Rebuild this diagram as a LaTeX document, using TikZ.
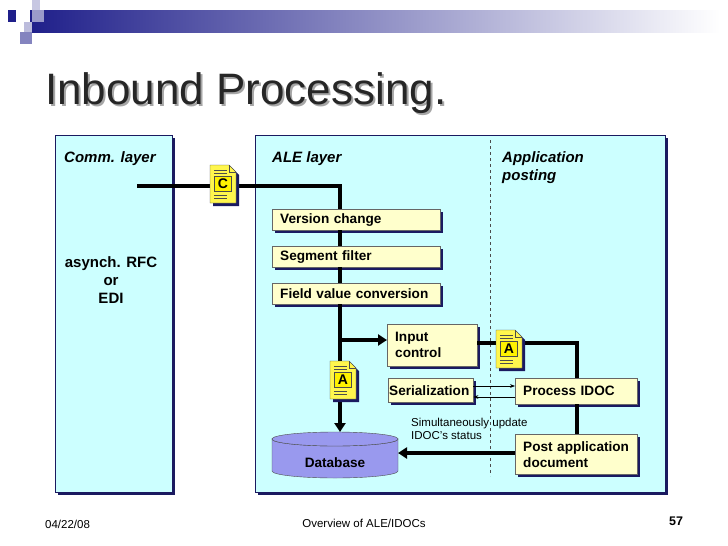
\documentclass[tikz,border=0pt]{standalone}
\usepackage{fontspec}
\setmainfont{Liberation Sans}
\usetikzlibrary{shadows,arrows.meta}
\definecolor{layerfill}{HTML}{CCFFFF}
\definecolor{boxfill}{HTML}{FFFFCC}
\definecolor{shadowblue}{HTML}{1A1A60}
\definecolor{dbfill}{HTML}{9999EE}
\definecolor{barblue}{HTML}{1F1F8A}
\tikzset{
  layerbox/.style={draw=shadowblue, fill=layerfill, anchor=north west, inner sep=0pt,
    drop shadow={shadow xshift=3pt, shadow yshift=-3pt, fill=shadowblue, opacity=1}},
  stagebox/.style={draw=black!60, fill=boxfill, anchor=north west, inner sep=0pt, inner xsep=8pt,
    align=left, font=\fontsize{13.6}{16}\selectfont\bfseries,
    drop shadow={shadow xshift=3pt, shadow yshift=-3pt, fill=shadowblue, opacity=1}},
  layertext/.style={anchor=west, inner sep=0pt, font=\fontsize{15}{18}\selectfont\bfseries\itshape, align=left},
  flow/.style={line width=3.2pt},
  syncarrow/.style={-{Stealth[length=5pt]}, line width=0.6pt}
}
\newcommand{\docicon}[4]{% name, x, y, letter
  \begin{scope}[shift={(#2,#3)}]
    \fill[shadowblue] (3,3) -- (22,3) -- (29,10) -- (29,41) -- (3,41) -- cycle;
    \draw[fill=yellow!70, draw=black!70] (0,0) -- (19,0) -- (26,7) -- (26,38) -- (0,38) -- cycle;
    \draw[black!70] (19,0) -- (19,7) -- (26,7);
    \foreach \yy in {5,8,30,33}
      \draw[black!70, line width=0.4pt] (4,\yy) -- (17,\yy);
    \node[draw=black!70, fill=yellow, minimum width=17pt, minimum height=15pt, inner sep=0pt,
      font=\fontsize{14}{14}\selectfont\bfseries] (#1) at (13,19) {#4};
  \end{scope}}
\begin{document}
\begin{tikzpicture}[x=1pt, y=-1pt]
  \useasboundingbox (0,0) rectangle (728,546);
  % header bar
  \shade[left color=barblue, right color=white, middle color=barblue!50] (30,10) rectangle (720,32);
  \fill[barblue] (8,10) rectangle (16,22);
  \fill[barblue!25] (32,0) rectangle (40,10);
  \fill[barblue!45] (32,10) rectangle (44,22);
  \fill[barblue!30] (24,22) rectangle (32,32);
  \fill[barblue!55] (20,32) rectangle (32,44);
  \node[anchor=base west, inner sep=0pt, font=\fontsize{44}{46}\selectfont] (title) at (45,104)
    {\rlap{\hspace{2pt}\raisebox{-2pt}{\textcolor{black!35}{Inbound Processing.}}}\textcolor{black!85}{Inbound Processing.}};

  % layers
  \node[layerbox, minimum width=117pt, minimum height=357pt] (comm) at (55,135) {};
  \node[layerbox, minimum width=410pt, minimum height=357pt] (ale) at (255,135) {};
  \node[layertext] (commlbl) at (64,159) {Comm. layer};
  \node[layertext] (alelbl) at (272,159) {ALE layer};
  \node[layertext, anchor=north west] (applbl) at (502,151) {Application\\posting};
  \node[align=center, inner sep=0pt, font=\fontsize{15}{18}\selectfont\bfseries] (rfc) at (111,280) {asynch. RFC\\or\\EDI};
  \draw[dashed, black!70, line width=0.7pt] (490,140) -- (490,476);

  % steps
  \node[stagebox, text width=152pt, minimum height=21pt] (version) at (272,209) {Version change};
  \node[stagebox, text width=152pt, minimum height=21pt] (segment) at (272,246) {Segment filter};
  \node[stagebox, text width=152pt, minimum height=21pt] (field) at (272,283) {Field value conversion};
  \node[stagebox, text width=74pt, minimum height=42pt, inner xsep=8pt] (input) at (387,324) {Input\\control};
  \node[stagebox, text width=83pt, minimum height=24pt, inner xsep=1pt] (serial) at (388,378) {Serialization};
  \node[stagebox, text width=106pt, minimum height=26pt] (process) at (515,378) {Process IDOC};
  \node[stagebox, text width=106pt, minimum height=40pt] (post) at (515,434) {Post application\\document};

  % database
  \draw[draw=black!70, fill=dbfill] (272,439) arc[start angle=180, end angle=360, x radius=63, y radius=-7]
    -- (398,471) arc[start angle=0, end angle=-180, x radius=63, y radius=-7] -- cycle;
  \draw[draw=black!70, fill=dbfill] (335,439) ellipse[x radius=63, y radius=7];
  \node[font=\fontsize{13.6}{16}\selectfont\bfseries] (db) at (335,463) {Database};
  \coordinate (dbtop) at (335,432);
  \coordinate (dbside) at (398,453);

  % flow
  \coordinate (cin) at (137,186);
  \coordinate (turn) at (340,186);
  \coordinate (branch) at (340,340);
  \coordinate (corner) at (577,343);
  \draw[flow] (cin) -- (turn) -- (version.north -| turn);
  \draw[flow] (version.south -| turn) -- (segment.north -| turn);
  \draw[flow] (segment.south -| turn) -- (field.north -| turn);
  \draw[flow, -{Triangle[length=9pt,width=11pt]}] (field.south -| turn) -- (dbtop -| turn);
  \draw[flow, -{Triangle[length=9pt,width=11pt]}] (branch) -- (input.west |- branch);
  \draw[flow] (input.east |- corner) -- (corner) -- (process.north -| corner);
  \draw[flow] (process.south -| corner) -- (post.north -| corner);
  \draw[flow, -{Triangle[length=9pt,width=11pt]}] (post.west |- dbside) -- (dbside);
  \draw[syncarrow] (serial.east |- 0,386) -- (process.west |- 0,386);
  \draw[syncarrow] (process.west |- 0,397) -- (serial.east |- 0,397);
  \node[anchor=north west, align=left, inner sep=0pt, font=\fontsize{11.5}{13}\selectfont] (status) at (411,418) {Simultaneously update\\IDOC's status};

  % documents
  \docicon{cdoc}{210}{165}{C}
  \docicon{adoc}{330}{361}{A}
  \docicon{bdoc}{496}{330}{A}

  % footer
  \node[anchor=west, inner sep=0pt, font=\fontsize{11.5}{13}\selectfont] (date) at (45,524) {04/22/08};
  \node[font=\fontsize{11.5}{13}\selectfont] (foot) at (364,523) {Overview of ALE/IDOCs};
  \node[font=\fontsize{12.5}{13}\selectfont\bfseries] (page) at (676,521) {57};
\end{tikzpicture}
\end{document}
